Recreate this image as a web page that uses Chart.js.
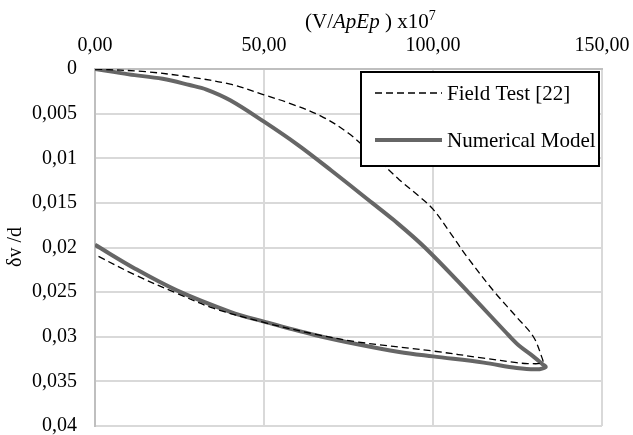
<!DOCTYPE html>
<html>
<head>
<meta charset="utf-8">
<script src="https://cdn.jsdelivr.net/npm/chart.js@4"></script>
<style>
  html, body { margin: 0; padding: 0; background: #fff; }
  #wrap { width: 633px; height: 435px; }
</style>
</head>
<body>
<div id="wrap"><canvas id="chart" width="633" height="435"></canvas></div>
<script>
// dados: x = V/ApEp x10^7, y = δv/d
const fieldX = [0, 15, 28, 40, 50, 58, 67, 75, 83, 90, 96, 100, 105, 110, 118, 125, 129.7, 132.1, 132.4, 128, 124.7, 115, 100, 78, 65, 50, 35, 24, 12, 0];
const fieldY = [0, 0.0003, 0.0009, 0.0017, 0.0029, 0.0039, 0.0053, 0.0072, 0.0099, 0.0124, 0.0143, 0.0157, 0.0183, 0.021, 0.0249, 0.0279, 0.0300, 0.0322, 0.0329, 0.0330, 0.0329, 0.0324, 0.0316, 0.0306, 0.0297, 0.0284, 0.0268, 0.0251, 0.0231, 0.0208];

const modelX = [0, 10, 20, 28, 33, 40, 50, 60, 70, 82, 88.3, 97.6, 110.4, 122.8, 125.5, 129, 132.5, 133.3, 130.6, 124.8, 115, 100, 90, 78.4, 65, 50, 40, 24.2, 12, 0];
const modelY = [0, 0.0006, 0.0011, 0.0018, 0.0023, 0.0035, 0.0059, 0.0085, 0.0114, 0.015, 0.0169, 0.02, 0.025, 0.03, 0.031, 0.032, 0.0331, 0.0334, 0.03365, 0.0335, 0.0329, 0.0322, 0.0317, 0.0309, 0.0298, 0.0283, 0.0272, 0.0248, 0.0224, 0.0197];

const xTickLabels = ['0,00', '50,00', '100,00', '150,00'];
const yTickLabels = ['0', '0,005', '0,01', '0,015', '0,02', '0,025', '0,03', '0,035', '0,04'];

const seriesNames = ['Field Test [22]', 'Numerical Model'];

const FONT = '"Liberation Serif", "Times New Roman", serif';

function toPoints(xs, ys) {
    return xs.map((x, i) => ({ x: x, y: ys[i] }));
}

// títulos dos eixos e legenda com moldura
const extras = {
    id: 'extras',
    afterDraw(chart) {
        const c = chart.ctx;
        c.save();
        c.fillStyle = '#000';
        c.textBaseline = 'alphabetic';

        // título do eixo x: (V/ApEp ) x10^7
        let x = 305;
        const base = 28;
        const parts = [
            ['(V/', '21px ' + FONT, 0],
            ['ApEp', 'italic 21px ' + FONT, 0],
            [' ) x10', '21px ' + FONT, 0],
            ['7', '14px ' + FONT, -8]
        ];
        parts.forEach(p => {
            c.font = p[1];
            c.fillText(p[0], x, base + p[2]);
            x += c.measureText(p[0]).width;
        });

        // título do eixo y
        c.font = '20px ' + FONT;
        c.translate(16, 247);
        c.rotate(-Math.PI / 2);
        c.textAlign = 'center';
        c.textBaseline = 'middle';
        c.fillText('δv /d', 0, 0);
        c.restore();

        // legenda
        c.save();
        c.fillStyle = '#fff';
        c.fillRect(361, 72, 238, 94);
        c.strokeStyle = '#000';
        c.lineWidth = 2;
        c.strokeRect(361, 72, 238, 94);
        const rows = [93, 140];
        chart.data.datasets.forEach((ds, i) => {
            c.beginPath();
            c.strokeStyle = ds.borderColor;
            c.lineWidth = ds.borderWidth;
            c.setLineDash(ds.borderDash || []);
            c.moveTo(375, rows[i]);
            c.lineTo(442, rows[i]);
            c.stroke();
            c.setLineDash([]);
            c.fillStyle = '#000';
            c.font = '21px ' + FONT;
            c.textBaseline = 'middle';
            c.fillText(seriesNames[i], 447, rows[i] + 1);
        });
        c.restore();
    }
};

const ctx = document.getElementById('chart').getContext('2d');
const chart = new Chart(ctx, {
    type: 'scatter',
    data: {
        datasets: [
            {
                label: seriesNames[0],
                data: toPoints(fieldX, fieldY),
                showLine: true,
                borderColor: '#000000',
                borderWidth: 1.3,
                borderDash: [7, 4],
                pointRadius: 0,
                tension: 0.35
            },
            {
                label: seriesNames[1],
                data: toPoints(modelX, modelY),
                showLine: true,
                borderColor: '#666666',
                borderWidth: 4,
                pointRadius: 0,
                tension: 0.35
            }
        ]
    },
    options: {
        responsive: false,
        animation: false,
        devicePixelRatio: 1,
        layout: { padding: { left: 0, top: 0, right: 31, bottom: 9 } },
        plugins: {
            legend: { display: false },
            tooltip: { enabled: false }
        },
        scales: {
            x: {
                type: 'linear',
                position: 'top',
                min: 0,
                max: 150,
                afterFit: s => {
                    s.height = 69;
                    s.paddingLeft = 0;
                    s.paddingRight = 0;
                },
                ticks: {
                    stepSize: 50,
                    padding: 11,
                    color: '#000',
                    font: { family: FONT, size: 20 },
                    callback: v => xTickLabels[Math.round(v / 50)]
                },
                grid: { color: '#d9d9d9', lineWidth: 2, drawTicks: false },
                border: { color: '#bfbfbf', width: 2 }
            },
            y: {
                type: 'linear',
                reverse: true,
                min: 0,
                max: 0.04,
                afterFit: s => {
                    s.width = 95;
                    s.paddingTop = 0;
                    s.paddingBottom = 0;
                },
                ticks: {
                    stepSize: 0.005,
                    padding: 18,
                    color: '#000',
                    font: { family: FONT, size: 20 },
                    callback: v => yTickLabels[Math.round(v / 0.005)]
                },
                grid: { color: '#d9d9d9', lineWidth: 2, drawTicks: false },
                border: { color: '#bfbfbf', width: 2 }
            }
        }
    },
    plugins: [extras]
});
</script>
</body>
</html>
